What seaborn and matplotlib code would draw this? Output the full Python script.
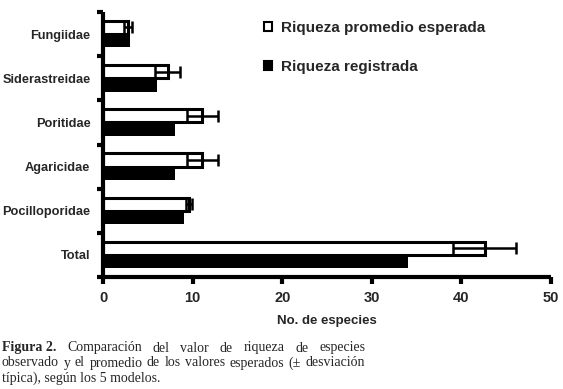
import matplotlib
matplotlib.use("Agg")
import matplotlib.pyplot as plt
import seaborn as sns
import pandas as pd
import numpy as np
from matplotlib.patches import Patch

categories = ["Fungiidae", "Siderastreidae", "Poritidae", "Agaricidae", "Pocilloporidae", "Total"]
expected_mean = [2.8, 7.2, 11.1, 11.1, 9.6, 42.6]
expected_sd = [0.45, 1.4, 1.7, 1.7, 0.3, 3.5]
observed = [3, 6, 8, 8, 9, 34]
series_names = ["Riqueza promedio esperada", "Riqueza registrada"]
x_ticks = [0, 10, 20, 30, 40, 50]
x_label = "No. de especies"
caption_bold = "Figura 2."
caption_lines = [
    "Comparación del valor de riqueza de especies",
    "observado y el promedio de los valores esperados (± desviación",
    "típica), según los 5 modelos.",
]

df = pd.DataFrame({
    "familia": categories * 2,
    "valor": expected_mean + observed,
    "serie": [series_names[0]] * len(categories) + [series_names[1]] * len(categories),
})

sns.set_theme(style="white")
plt.rcParams["font.family"] = ["Liberation Sans", "DejaVu Sans"]

W, H = 563, 389
fig = plt.figure(figsize=(W / 100, H / 100), dpi=100)
ax = fig.add_axes([103 / W, 1 - 277 / H, (551 - 103) / W, (277 - 12) / H])

sns.barplot(data=df, y="familia", x="valor", hue="serie", order=categories,
            hue_order=series_names, palette=["white", "black"], orient="h",
            width=0.6, gap=0, errorbar=None, ax=ax, legend=False,
            edgecolor="black", linewidth=2.2, saturation=1)

for bar in ax.containers[1]:
    bar.set_linewidth(0)

ys = [b.get_y() + b.get_height() / 2 for b in ax.containers[0]]
ax.errorbar(expected_mean, ys, xerr=expected_sd, fmt="none", ecolor="black",
            elinewidth=1.8, capsize=4, capthick=1.8, zorder=5)

ax.set_xlim(0, 50)
ax.set_ylim(len(categories) - 0.5, -0.5)
ax.set_xticks(x_ticks)
ax.set_xticklabels([str(t) for t in x_ticks], fontsize=10.5, fontweight="bold")
ax.set_yticks(range(len(categories)))
ax.set_yticklabels(categories, fontsize=9.2, fontweight="bold")
ax.set_yticks(np.arange(-0.5, len(categories), 1.0), minor=True)
ax.tick_params(axis="y", which="major", length=0, pad=9)
ax.tick_params(axis="y", which="minor", length=4, width=3, color="black", left=True)
ax.tick_params(axis="x", which="major", length=5, width=3, color="black", bottom=True, pad=5)
ax.set_ylabel("")
ax.set_xlabel(x_label, fontsize=9.5, fontweight="bold", labelpad=7)
sns.despine(ax=ax)
for s in ["left", "bottom"]:
    ax.spines[s].set_linewidth(3)
    ax.spines[s].set_color("black")
    ax.spines[s].set_capstyle("butt")

handles = [Patch(facecolor="white", edgecolor="black", linewidth=1.5),
           Patch(facecolor="black", edgecolor="black", linewidth=1.5)]
leg = fig.legend(handles, series_names, loc="upper left",
                 bbox_to_anchor=(264 / W, 1 - 21 / H), frameon=False,
                 borderaxespad=0, borderpad=0, handlelength=0.52, handleheight=0.52,
                 handletextpad=0.6, labelspacing=1.65,
                 prop={"family": "Liberation Sans", "weight": "bold", "size": 11})

serif = ["Liberation Serif", "DejaVu Serif"]
cap_size = 10
fig.canvas.draw()
renderer = fig.canvas.get_renderer()

def width_of(t):
    return t.get_window_extent(renderer=renderer).width

x0, x1 = 2, 365
line_y = [348, 363, 378]
words = [(caption_bold, "bold")] + [(w, "normal") for w in caption_lines[0].split()]
texts = [fig.text(0, 1 - line_y[0] / H, w, fontsize=cap_size, family=serif,
                  fontweight=wt, va="center", ha="left") for w, wt in words]
widths = [width_of(t) for t in texts]
gap = (x1 - x0 - sum(widths)) / (len(texts) - 1)
xx = x0
for t, w in zip(texts, widths):
    t.set_x(xx / W)
    xx += w + gap

words2 = caption_lines[1].split()
texts2 = [fig.text(0, 1 - line_y[1] / H, w, fontsize=cap_size, family=serif,
                   va="center", ha="left") for w in words2]
widths2 = [width_of(t) for t in texts2]
gap2 = (x1 - x0 - sum(widths2)) / (len(texts2) - 1)
xx = x0
for t, w in zip(texts2, widths2):
    t.set_x(xx / W)
    xx += w + gap2
fig.text(x0 / W, 1 - line_y[2] / H, caption_lines[2], fontsize=cap_size,
         family=serif, va="center", ha="left")

fig.savefig("out.png", dpi=100, facecolor="white")
